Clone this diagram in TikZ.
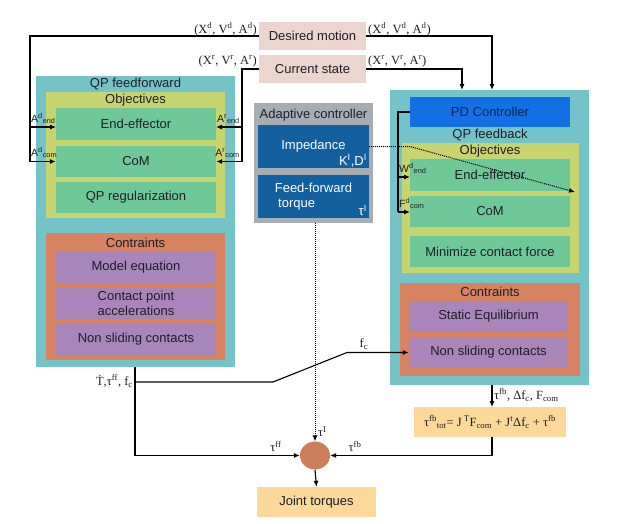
\documentclass[tikz,border=0pt]{standalone}
\usepackage{fontspec}
\setmainfont{Liberation Sans}
\newfontfamily\tms{Liberation Serif}
\usetikzlibrary{arrows.meta,calc,shapes.geometric}
\definecolor{cteal}{RGB}{115,195,200}
\definecolor{cyel}{RGB}{200,212,112}
\definecolor{cgreen}{RGB}{110,200,152}
\definecolor{corange}{RGB}{215,130,96}
\definecolor{cpurple}{RGB}{168,134,186}
\definecolor{cpink}{RGB}{236,213,207}
\definecolor{cgray}{RGB}{166,173,179}
\definecolor{cdblue}{RGB}{18,96,160}
\definecolor{cpd}{RGB}{18,112,228}
\definecolor{cform}{RGB}{252,217,152}
\definecolor{ccirc}{RGB}{205,125,92}
\definecolor{ctxt}{RGB}{30,30,40}
\begin{document}
\begin{tikzpicture}[x=1pt,y=-1pt,
  box/.style={draw=none,inner sep=0pt,align=center,text=ctxt,font=\fontsize{13}{15}\selectfont},
  ttl/.style={inner sep=0pt,text=ctxt,font=\fontsize{13}{15}\selectfont},
  lab/.style={inner sep=1pt,text=ctxt,font=\tms\fontsize{12.5}{14}\selectfont},
  slab/.style={inner sep=1pt,text=ctxt,font=\fontsize{10.5}{12}\selectfont},
  arr/.style={line width=1.1pt,-{Latex[length=6pt,width=5pt]}},
  ln/.style={line width=1.1pt},
  dot/.style={line width=1pt,densely dotted,-{Latex[length=6pt,width=5pt]}}]
\useasboundingbox (0,0) rectangle (619,523);
% ---------- top boxes
\node[box,fill=cpink,minimum width=107pt,minimum height=28pt] (des) at (312.5,36) {Desired motion};
\node[box,fill=cpink,minimum width=107pt,minimum height=28pt] (cur) at (312.5,69) {Current state};
% ---------- QP feedforward
\node[box,fill=cteal,minimum width=199pt,minimum height=291pt] (ff) at (135.5,221.5) {};
\node[ttl] (fft) at (135.5,84) {QP feedforward};
\node[box,fill=cyel,minimum width=179pt,minimum height=126pt] (ffo) at (135.5,155) {};
\node[ttl] (ffot) at (135.5,100) {Objectives};
\node[box,fill=cgreen,minimum width=160pt,minimum height=32pt] (ffee) at (136,124) {End-effector};
\node[box,fill=cgreen,minimum width=160pt,minimum height=31pt] (ffcom) at (136,161.5) {CoM};
\node[box,fill=cgreen,minimum width=160pt,minimum height=31pt] (ffreg) at (136,197.5) {QP regularization};
\node[box,fill=corange,minimum width=179pt,minimum height=127pt] (ffc) at (135.5,296.5) {};
\node[ttl] (ffct) at (135.5,243) {Contraints};
\node[box,fill=cpurple,minimum width=160pt,minimum height=32pt] (ffm) at (136,267) {Model equation};
\node[box,fill=cpurple,minimum width=160pt,minimum height=32pt] (ffcp) at (136,303) {Contact point\\accelerations};
\node[box,fill=cpurple,minimum width=160pt,minimum height=31pt] (ffns) at (136,339.5) {Non sliding contacts};
% ---------- Adaptive controller
\node[box,fill=cgray,minimum width=119pt,minimum height=120pt] (ad) at (313.5,163) {};
\node[ttl] (adt) at (313.5,115) {Adaptive controller};
\node[box,fill=cdblue,minimum width=111pt,minimum height=43pt] (imp) at (313.5,146.5) {};
\node[ttl,text=white] (impt) at (313.5,146) {Impedance};
\node[ttl,text=white,anchor=south east] (kd) at (367,167) {K\textsuperscript{I},D\textsuperscript{I}};
\node[box,fill=cdblue,minimum width=111pt,minimum height=43pt] (fft2) at (313.5,196.5) {};
\node[ttl,text=white] (fftA) at (313.5,188) {Feed-forward};
\node[ttl,text=white,anchor=west] (fftB) at (278,205) {torque};
\node[ttl,text=white,anchor=south east] (taui) at (367,216) {τ\textsuperscript{I}};
% ---------- QP feedback
\node[box,fill=cteal,minimum width=199pt,minimum height=295pt] (fb) at (489.5,237.5) {};
\node[box,fill=cpd,minimum width=160pt,minimum height=30pt,text={rgb,255:red,20;green,35;blue,80}] (pd) at (490,112) {PD Controller};
\node[ttl] (fbt) at (490,135) {QP feedback};
\node[box,fill=cyel,minimum width=177pt,minimum height=130pt] (fbo) at (490.5,208) {};
\node[ttl] (fbot) at (490,151) {Objectives};
\node[box,fill=cgreen,minimum width=160pt,minimum height=32pt] (fbee) at (490,175) {End-effector};
\node[box,fill=cgreen,minimum width=160pt,minimum height=31pt] (fbcom) at (490,211.5) {CoM};
\node[box,fill=cgreen,minimum width=160pt,minimum height=31pt] (fbmin) at (490,251.5) {Minimize contact force};
\node[box,fill=corange,minimum width=180pt,minimum height=93pt] (fbc) at (490,329.5) {};
\node[ttl] (fbct) at (490,292) {Contraints};
\node[box,fill=cpurple,minimum width=159pt,minimum height=31pt] (fbst) at (488.5,316.5) {Static Equilibrium};
\node[box,fill=cpurple,minimum width=159pt,minimum height=31pt] (fbns) at (488.5,352.5) {Non sliding contacts};
% ---------- bottom
\node[box,fill=cform,minimum width=152pt,minimum height=30pt,font=\tms\fontsize{12.5}{14}\selectfont] (form) at (490,422)
  {τ\textsuperscript{fb}\textsubscript{tot}= J\,\textsuperscript{T}F\textsubscript{com} + J\textsuperscript{t}Δf\textsubscript{c} + τ\textsuperscript{fb}};
\node[ellipse,fill=ccirc,minimum width=30pt,minimum height=28pt,inner sep=0pt] (sum) at (315,455.5) {};
\node[box,fill=cform,minimum width=119pt,minimum height=30pt] (jt) at (316.5,502) {Joint torques};
% ---------- coordinates
\coordinate (l1) at (30,36);
\coordinate (l2) at (30,161.5);
\coordinate (l3) at (30,127);
\coordinate (l3e) at (56,127);
\coordinate (r1) at (242,69);
\coordinate (r2) at (242,161.5);
\coordinate (r3) at (242,127);
\coordinate (r3e) at (216,127);
\coordinate (d1) at (492,36);
\coordinate (d2) at (492,90);
\coordinate (c1) at (462,69);
\coordinate (c2) at (462,90);
\coordinate (p1) at (398,112);
\coordinate (p2) at (398,212);
\coordinate (p3) at (398,177);
\coordinate (p3e) at (410,177);
\coordinate (p2e) at (410,212);
\coordinate (i1) at (410,146.5);
\coordinate (i2) at (575,192);
\coordinate (b1) at (135,367);
\coordinate (b2) at (135,455.5);
\coordinate (b3) at (135,382);
\coordinate (b4) at (273,382);
\coordinate (b5) at (347,352.5);
\coordinate (f1) at (492,385);
\coordinate (f2) at (492,407);
\coordinate (f3) at (492,437);
\coordinate (f4) at (492,455.5);
\coordinate (a1) at (315,223);
% ---------- connectors
\draw[ln] (des.west) -- (l1) -- (l2);
\draw[arr] (l2) -- (ffcom.west);
\draw[arr] (l3) -- (l3e);
\draw[ln] (cur.west) -- (r1) -- (r2);
\draw[arr] (r2) -- (ffcom.east);
\draw[arr] (r3) -- (r3e);
\draw[arr] (des.east) -- (d1) -- (d2);
\draw[arr] (cur.east) -- (c1) -- (c2);
\draw[ln] (pd.west) -- (p1) -- (p2);
\draw[arr] (p2) -- (p2e);
\draw[arr] (p3) -- (p3e);
\draw[dot] (imp.east) -- (i1) -- (i2);
\draw[dot] (a1) -- (sum.north);
\draw[arr] (b1) -- (b2) -- (sum.west);
\draw[arr] (b3) -- (b4) -- (b5) -- (b5 -| fbns.west);
\draw[arr] (f1) -- (f2);
\draw[arr] (f3) -- (f4) -- (sum.east);
\draw[arr] (sum.south) -- (jt.north);
% ---------- labels
\node[lab,anchor=south east] (ld1) at (258,37) {(X\textsuperscript{d}, V\textsuperscript{d}, A\textsuperscript{d})};
\node[lab,anchor=south east] (lr1) at (258,68) {(X\textsuperscript{r}, V\textsuperscript{r}, A\textsuperscript{r})};
\node[lab,anchor=south west] (ld2) at (367,37) {(X\textsuperscript{d}, V\textsuperscript{d}, A\textsuperscript{d})};
\node[lab,anchor=south west] (lr2) at (367,68) {(X\textsuperscript{r}, V\textsuperscript{r}, A\textsuperscript{r})};
\node[slab,anchor=south west] (la1) at (30,125) {A\textsuperscript{d}\textsubscript{end}};
\node[slab,anchor=south west] (la2) at (30,159) {A\textsuperscript{d}\textsubscript{com}};
\node[slab,anchor=south east] (la3) at (241,125) {A\textsuperscript{r}\textsubscript{end}};
\node[slab,anchor=south east] (la4) at (241,159) {A\textsuperscript{r}\textsubscript{com}};
\node[slab,anchor=south west] (lw) at (398,175) {W\textsuperscript{d}\textsubscript{end}};
\node[slab,anchor=south west] (lf) at (398,210) {F\textsuperscript{d}\textsubscript{com}};
\node[lab,anchor=east] (lt) at (134,381) {\.{T},τ\textsuperscript{ff}, f\textsubscript{c}};
\node[lab,anchor=south] (lfc) at (364,351) {f\textsubscript{c}};
\node[lab,anchor=west] (ltfb) at (493,395) {τ\textsuperscript{fb}, Δf\textsubscript{c}, F\textsubscript{com}};
\node[lab,anchor=south] (ltff) at (276,453) {τ\textsuperscript{ff}};
\node[lab,anchor=south] (ltfb2) at (355,453) {τ\textsuperscript{fb}};
\node[lab,anchor=south west] (lti) at (317,438) {τ\textsuperscript{I}};
\end{tikzpicture}
\end{document}
